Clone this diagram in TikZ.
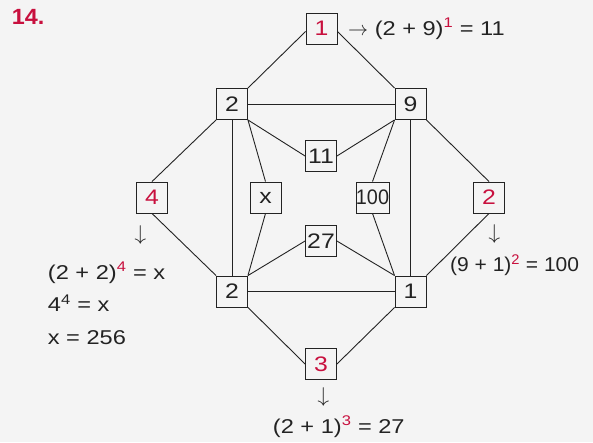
\documentclass[tikz,border=0pt]{standalone}
\usepackage{fontspec}
\setmainfont{Liberation Sans}[FakeStretch=1.18]
\usetikzlibrary{positioning}
\definecolor{crimson}{RGB}{200,16,62}
\definecolor{ink}{RGB}{35,35,35}
\definecolor{paper}{RGB}{244,244,244}
\tikzset{
  sq/.style={draw=ink,line width=0.9pt,minimum size=31pt,inner sep=0pt,
    text=ink,font=\fontsize{21}{24}\selectfont},
  link/.style={draw=ink,line width=0.9pt},
  calc/.style={text=ink,font=\fontsize{20}{24}\selectfont,inner sep=0pt,anchor=base west},
  dn/.style={text=ink,inner sep=0pt},
}
\newcommand{\hl}[1]{\textcolor{crimson}{#1}}
\newcommand{\rarr}{\resizebox{20pt}{!}{$\rightarrow$}}
\newcommand{\darr}{\rotatebox{-90}{\resizebox{21pt}{!}{$\rightarrow$}}}

\begin{document}
\begin{tikzpicture}[x=1pt,y=-1pt]
  \fill[paper] (0,0) rectangle (593,442);
  \node[anchor=base west,inner sep=0pt,text=crimson,font=\fontsize{22}{26}\selectfont\bfseries] (num) at (11.7,24) {\scalebox{0.9}[1]{14.}};
  % squares
  \node[sq] (top) at (321.5,28.5) {\hl{1}};
  \node[sq] (tl) at (232,104) {2};
  \node[sq] (tr) at (410.5,104) {9};
  \node[sq] (c11) at (321,156) {11};
  \node[sq] (lft) at (152,197.5) {\hl{4}};
  \node[sq] (cx) at (265.5,197.5) {x};
  \node[sq] (c100) at (372.5,197.5) {\scalebox{0.8}[1]{100}};
  \node[sq] (rgt) at (489,197.5) {\hl{2}};
  \node[sq] (c27) at (321,241) {27};
  \node[sq] (bl) at (232,291.5) {2};
  \node[sq] (br) at (410.5,291.5) {1};
  \node[sq] (bot) at (321,364) {\hl{3}};
  % links
  \draw[link] (tl.north east) -- ([yshift=-3pt]top.west);
  \draw[link] (tr.north west) -- ([yshift=-3pt]top.east);
  \draw[link] (tl) -- (tr);
  \draw[link] (tl) -- (bl);
  \draw[link] (tr) -- (br);
  \draw[link] (bl) -- (br);
  \foreach \a/\b in {tl.south west/lft.north, lft.south/bl.north west,
      tr.south east/rgt.north, rgt.south/br.north east,
      bl.south east/bot.west, br.south west/bot.east,
      tl.south east/cx.north, tl.south east/c11.west,
      tr.south west/c11.east, tr.south west/c100.north,
      bl.north east/cx.south, bl.north east/c27.west,
      br.north west/c27.east, br.north west/c100.south}
    \draw[link] (\a) -- (\b);
  % working
  \node[calc] (ttop) at (348,35) {\rarr\ (2 + 9)\textsuperscript{\hl{1}} = 11};
  \node[dn] (al) at (139,235) {\darr};
  \node[calc] (tl1) at (47.7,279.3) {(2 + 2)\textsuperscript{\hl{4}} = x};
  \node[calc] (tl2) at (47.7,311.7) {4\textsuperscript{4} = x};
  \node[calc] (tl3) at (47.7,344.3) {x = 256};
  \node[dn] (ar) at (493,234) {\darr};
  \node[calc] (tr1) at (450,271.7) {\scalebox{0.89}[1]{(9 + 1)\textsuperscript{\hl{2}} = 100}};
  \node[dn] (ab) at (322,396.5) {\darr};
  \node[calc] (tb1) at (272.7,433.3) {(2 + 1)\textsuperscript{\hl{3}} = 27};
\end{tikzpicture}
\end{document}
